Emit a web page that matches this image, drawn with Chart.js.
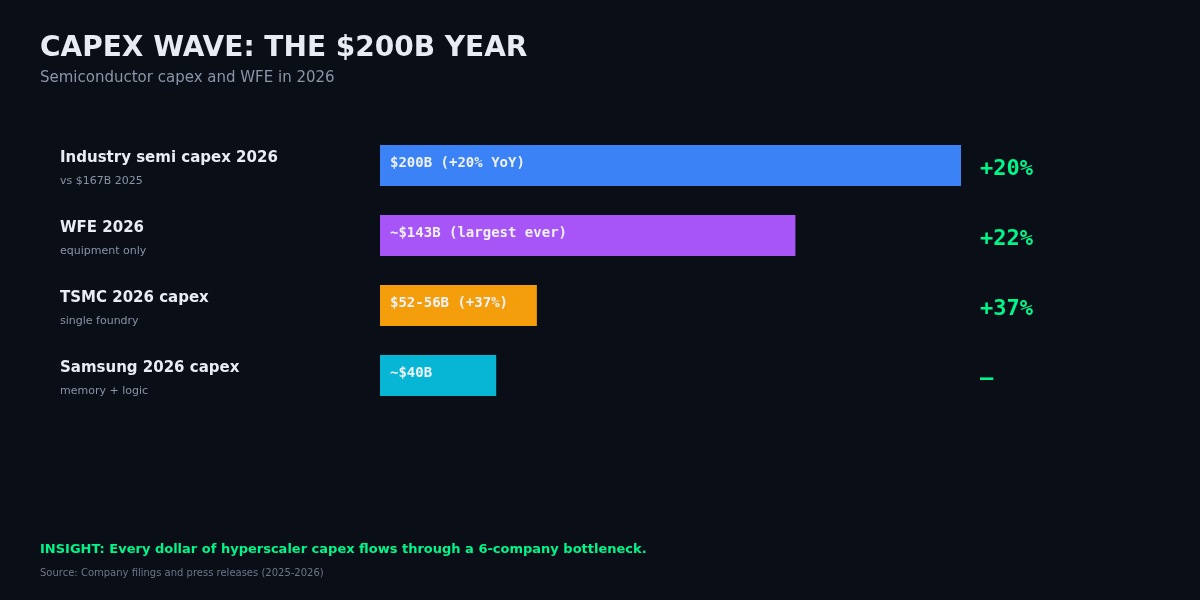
<!DOCTYPE html>
<html>
<head>
<meta charset="utf-8">
<script src="https://cdn.jsdelivr.net/npm/chart.js@4.4.1/dist/chart.umd.min.js"></script>
<style>
  body { margin: 0; background: #0a0e17; width: 1200px; height: 600px; overflow: hidden; position: relative; font-family: "DejaVu Sans", sans-serif; }
  #wrap { position: absolute; left: 0; top: 0; width: 1200px; height: 600px; }
  .txt { position: absolute; left: 40px; white-space: nowrap; line-height: 1; }
</style>
</head>
<body>
<div id="wrap"><canvas id="capexChart"></canvas></div>
<div class="txt" style="top:32.5px;font-size:28px;font-weight:bold;color:#e6ebf4">CAPEX WAVE: THE $200B YEAR</div>
<div class="txt" style="top:69.5px;font-size:15px;color:#8b95a8">Semiconductor capex and WFE in 2026</div>
<div class="txt" style="top:542px;font-size:13px;font-weight:bold;color:#00f58a">INSIGHT: Every dollar of hyperscaler capex flows through a 6-company bottleneck.</div>
<div class="txt" style="top:568px;font-size:10px;color:#6e7689">Source: Company filings and press releases (2025-2026)</div>
<script>
// data
const categories = ['Industry semi capex 2026', 'WFE 2026', 'TSMC 2026 capex', 'Samsung 2026 capex'];
const notes = ['vs $167B 2025', 'equipment only', 'single foundry', 'memory + logic'];
const capexValues = [200, 143, 54, 40];
const valueLabels = ['$200B (+20% YoY)', '~$143B (largest ever)', '$52-56B (+37%)', '~$40B'];
const growthLabels = ['+20%', '+22%', '+37%', '—'];
const barColors = ['#3b82f6', '#a855f7', '#f59e0b', '#06b6d4'];

// draws the row labels, in-bar text and growth numbers
const rowText = {
    id: 'rowText',
    afterDatasetsDraw(chart) {
        const ctx = chart.ctx;
        const bars = chart.getDatasetMeta(0).data;
        const right = chart.chartArea.right;
        ctx.save();
        ctx.textBaseline = 'alphabetic';
        ctx.textAlign = 'left';
        bars.forEach((bar, i) => {
            const y = bar.y;
            ctx.fillStyle = '#e8edf5';
            ctx.font = 'bold 15px "DejaVu Sans", sans-serif';
            ctx.fillText(categories[i], 60, y - 4);
            ctx.fillStyle = '#8a94a6';
            ctx.font = '11px "DejaVu Sans", sans-serif';
            ctx.fillText(notes[i], 60, y + 18);

            ctx.fillStyle = '#eef2f8';
            ctx.font = 'bold 14px "DejaVu Sans Mono", monospace';
            ctx.fillText(valueLabels[i], bar.base + 10, y + 1);

            ctx.fillStyle = '#00f58a';
            ctx.font = 'bold 22px "DejaVu Sans Mono", monospace';
            ctx.fillText(growthLabels[i], right + 19, y + 9);
        });
        ctx.restore();
    }
};

new Chart('capexChart', {
    type: 'bar',
    data: {
        labels: categories,
        datasets: [{
            data: capexValues,
            backgroundColor: barColors,
            borderWidth: 0,
            barPercentage: 0.586,
            categoryPercentage: 1
        }]
    },
    options: {
        indexAxis: 'y',
        responsive: true,
        maintainAspectRatio: false,
        animation: false,
        layout: {
            padding: { left: 380, right: 239, top: 130.5, bottom: 189.5 }
        },
        plugins: {
            legend: { display: false },
            tooltip: { enabled: false }
        },
        scales: {
            x: { display: false, min: 0, max: 200 },
            y: { display: false }
        }
    },
    plugins: [rowText]
});
</script>
</body>
</html>
